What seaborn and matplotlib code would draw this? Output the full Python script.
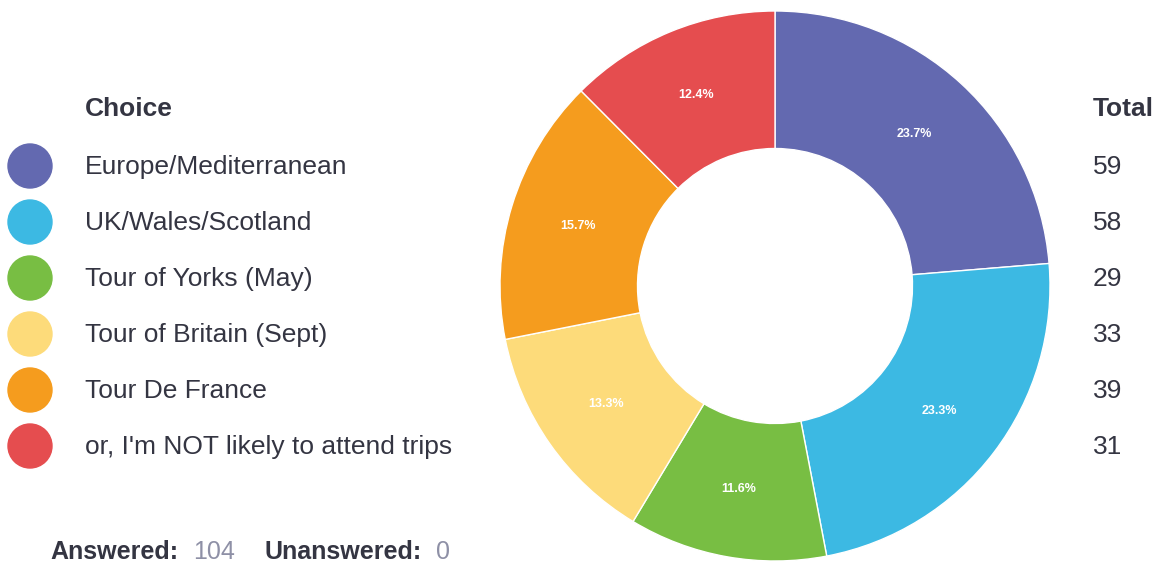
import matplotlib
matplotlib.use("Agg")
import matplotlib.pyplot as plt
from matplotlib.patches import Ellipse
import seaborn as sns

choices = ["Europe/Mediterranean", "UK/Wales/Scotland", "Tour of Yorks (May)",
           "Tour of Britain (Sept)", "Tour De France", "or, I'm NOT likely to attend trips"]
totals = [59, 58, 29, 33, 39, 31]
answered = 104
unanswered = 0
colors = ["#6369B0", "#3CB9E3", "#78BE43", "#FDDB7A", "#F59C1E", "#E54D4F"]

sns.set_theme(style="white")
plt.rcParams['font.family'] = ['Liberation Sans', 'DejaVu Sans']

W, H = 1162, 565
fig = plt.figure(figsize=(W / 100, H / 100), dpi=100)
fig.patch.set_facecolor("white")

def px(x, y):
    return x / W, 1 - y / H

# donut
cx, cy, r = 775, 286, 275
ax = fig.add_axes([(cx - r) / W, (H - cy - r) / H, 2 * r / W, 2 * r / H])
wedges, _, autotexts = ax.pie(
    totals, colors=colors, startangle=90, counterclock=False,
    autopct=lambda p: f"{p:.1f}%", pctdistance=0.75, radius=1,
    wedgeprops=dict(width=0.5, edgecolor="white", linewidth=1),
    textprops=dict(color="white", fontsize=9, fontweight="bold"))
ax.set_xlim(-1, 1)
ax.set_ylim(-1, 1)
ax.axis("off")

dark = "#343542"
gray = "#8E90A6"
fig.text(*px(85, 116), "Choice", fontsize=19, fontweight="bold", color=dark, va="baseline")
fig.text(*px(1093, 116), "Total", fontsize=19, fontweight="bold", color=dark, va="baseline")

# legend rows
for i, (name, val, col) in enumerate(zip(choices, totals, colors)):
    yc = 166 + i * 56
    yb = 174 + i * 56
    fig.patches.append(Ellipse(px(30, yc), 44 / W, 44 / H, color=col,
                               transform=fig.transFigure, figure=fig))
    fig.text(*px(85, yb), name, fontsize=19, color=dark, va="baseline")
    fig.text(*px(1093, yb), str(val), fontsize=19, color=dark, va="baseline")

# answered / unanswered
fig.text(*px(50, 559), "Answered:", fontsize=18, fontweight="bold", color=dark, va="baseline")
fig.text(*px(193, 559), str(answered), fontsize=18, color=gray, va="baseline")
fig.text(*px(265, 559), "Unanswered:", fontsize=18, fontweight="bold", color=dark, va="baseline")
fig.text(*px(436, 559), str(unanswered), fontsize=18, color=gray, va="baseline")

fig.savefig("out.png", dpi=100)
